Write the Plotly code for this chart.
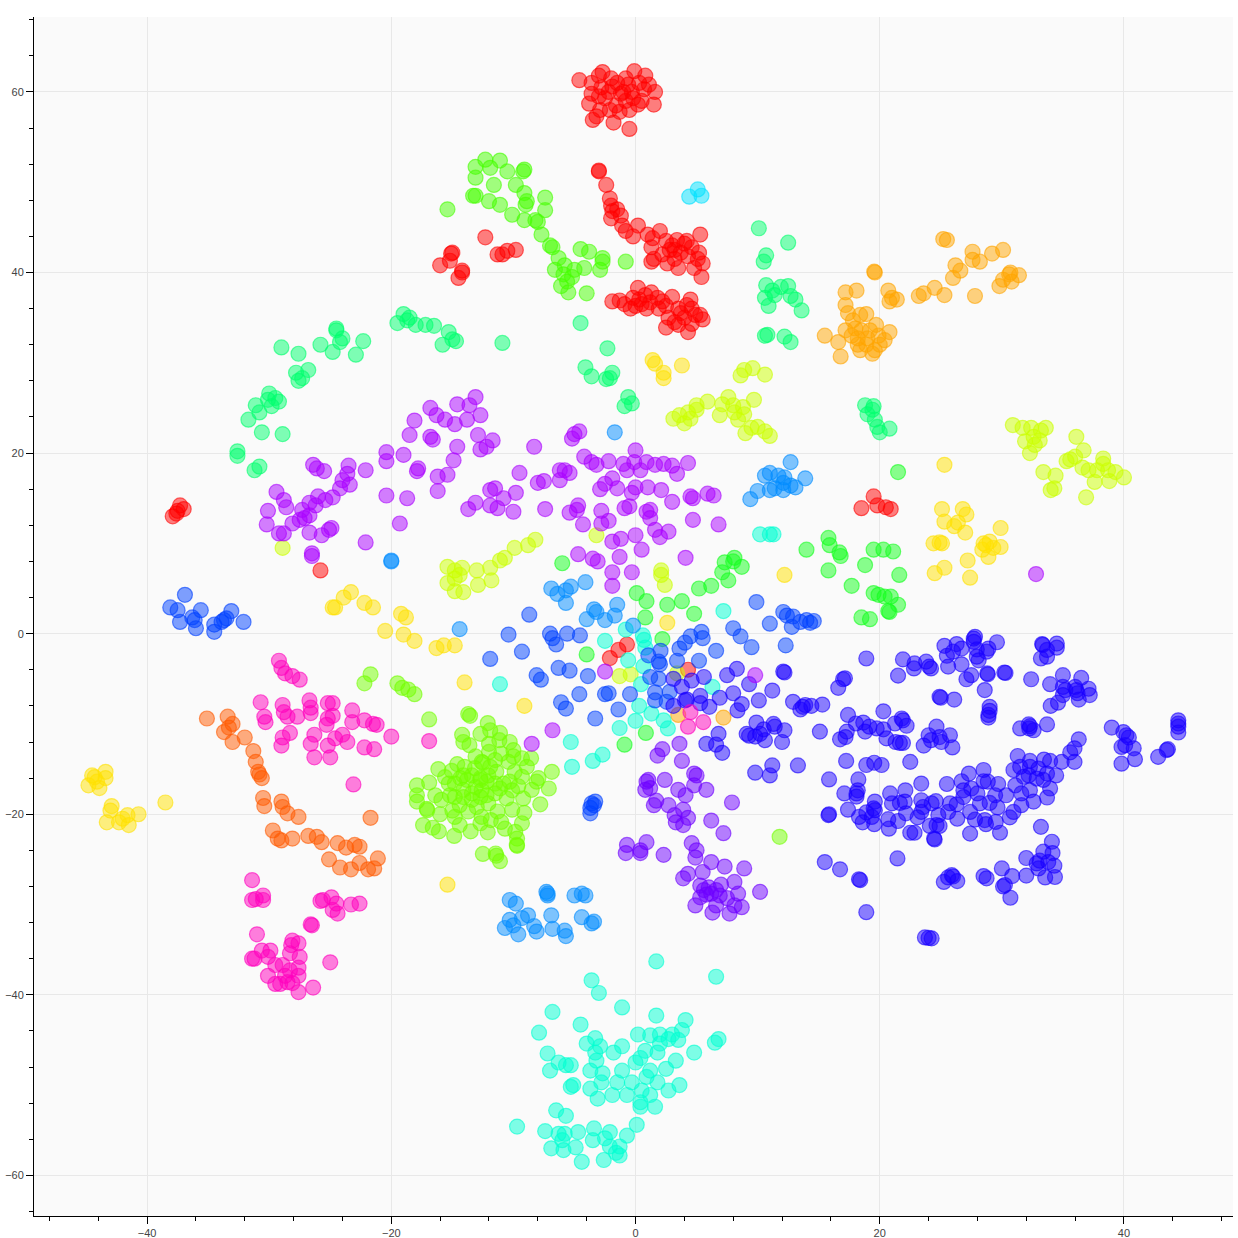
import plotly.graph_objects as go

red = [(-4.6,61.3),(-3.6,61),(-3,61.8),(-2.7,62.2),(-2,61.5),(-1.5,61),(-0.8,61.5),(-0.1,62.3),(0.8,61.8),(1.1,60.8),(1.6,60),(1.5,58.6),(0.5,59),(-0.3,60),(-0.8,59),(-1.2,59.8),(-1.6,58.5),(-2.2,60),(-2.8,60.5),(-3.6,59.8),(-3.8,58.7),(-2.9,58),(-2.1,58),(-1.3,57.8),(-0.5,58),(0.2,58.6),(-0.6,60.8),(-1.9,60.6),(-3.2,57.3),(-3.5,56.9),(-1.8,56.6),(-0.5,55.9),(0.7,60.3),(0.3,61),(-1,60),(-2.5,59.3),(-0.2,59.3),(-3,59.5),
(-3,51.3),(-3,51.2),(-2.4,49.7),(-2.1,48.2),(-2,47.4),(-1.9,46.8),(-2,46),(-1.5,47),(-1.2,46.3),(-1.1,45.2),(-0.8,44.6),(0.2,45.2),(-0.2,44),(1,44.2),(1.4,43.8),(2,44.6),(2.5,43.5),(3,43),(3.2,42.5),(3.7,42.2),(4,43.2),(4.6,42.8),(5.3,44.2),(1.3,42.8),(1.5,41.5),(2.2,42),(2.6,41),(3.2,41.5),(3.5,40.5),(4.3,41.8),(4.8,40.5),(5.1,41.5),(5.5,41),(5.4,39.5),(4.2,43.5),(3.4,43.6),(5.2,42.2),(1.3,41.2),(2.8,42.5),
(-1.9,36.8),(-1.3,36.9),(-0.9,36.5),(-0.4,36),(0,36.3),(0.3,37),(0.2,38.3),(0.8,37.5),(1.3,37.8),(1.2,36.7),(1.8,37.2),(0.9,36),(0.5,36.5),(2.2,36.8),(2.5,36.3),(2.7,35),(2.5,33.9),(3.2,34.5),(3.5,36),(3.7,35.5),(4,35),(4.2,36.4),(4.5,37),(4.6,36),(4.9,35.3),(5.3,35.3),(5.5,34.8),(4.3,33.4),(4.6,34.3),(3.5,34.2),(1.9,36),(-0.2,37.2),(3,37.3),
(-16,40.8),(-15.1,42.1),(-15.2,41.3),(-15,42.2),(-14.2,40),(-14.5,39.4),(-14.2,40.2),(-12.3,43.9),(-11.3,42),(-10.9,42),(-10.5,42.4),(-9.8,42.5),
(-37.9,13),(-37.5,13.6),(-37.3,14.2),(-37,13.8),(-37.6,13.3),(-25.8,7),(18.5,13.9),(19.5,15.2),(19.8,14.2),(20.5,14),(20.9,13.8),(-2.1,-2.7),(-1.4,-1.8),(-0.7,-1.2),(4.3,-4)]

amber = [(18.1,38),(17.2,37.8),(17.2,36.4),(17.4,35.5),(17.8,34.7),(18.4,35.3),(18.9,35.4),(15.5,33),(16.6,32.3),(16.8,30.7),(17.2,33.6),(18,33.8),(18.5,33.6),(19.2,33.6),(19.9,33),(20.8,33.4),(18.2,32),(18.4,31.4),(18.9,32),(19.6,31.4),(20,32),(19.4,31),(18.2,32.7),(19,32.7),(19.7,34.2),(20.4,32.5),(17.7,33),(19.6,40),(19.55,40.1),(20.7,38),(21,37.2),(21.4,37),(20.8,36.8),(23.2,37.4),(23.6,37.7),(24.5,38.3),(25.3,37.5),(25.2,43.7),(25.5,43.6),(26,39.4),(26.2,40.8),(26.6,40.2),(27.6,42.3),(27.6,41.4),(27.8,37.4),(28.2,41.2),(29.2,42.1),(30.1,42.5),(29.8,38.5),(30.1,39.2),(30.6,39.8),(31.4,39.7),(30.8,39),(30.7,40),(7.2,-9.3),(3.5,-9)]

orange = [(-35.1,-9.4),(-33.4,-9.2),(-33.3,-10.4),(-33,-10),(-33.7,-10.9),(-33,-12),(-32,-11.5),(-31.3,-13),(-31.1,-14.2),(-30.9,-15.3),(-30.6,-16),(-30.8,-15.6),(-30.5,-18.2),(-30.4,-19.1),(-29,-18.6),(-28.9,-19.2),(-28.5,-19.9),(-27.6,-20.3),(-29.7,-21.8),(-29.3,-22.7),(-29,-22.9),(-28.1,-22.7),(-26.8,-22.4),(-26.1,-22.5),(-25.7,-23.1),(-24.4,-23.2),(-23.7,-23.7),(-23,-23.4),(-22.6,-23.6),(-25.1,-25),(-24.2,-25.9),(-23.3,-26.1),(-22.6,-25.4),(-21.9,-26.1),(-21.4,-26),(-21.1,-24.9),(-21.7,-20.4)]

yellow = [(-44.8,-16.8),(-44.5,-15.7),(-44.1,-16.4),(-43.9,-17.1),(-43.4,-15.3),(-43.4,-16),(-42.9,-19.1),(-43.3,-20.9),(-43,-19.6),(-42.3,-20.9),(-42,-20.5),(-41.5,-21.2),(-41.6,-20.1),(-40.7,-20),(-38.5,-18.7),(-44.3,-15.9),
(-24.8,2.9),(-24.6,2.9),(-23.9,4),(-23.3,4.6),(-22.2,3.4),(-21.5,2.9),(-20.5,0.3),(-19.2,2.2),(-18.8,1.8),(-19,-0.1),(-18.1,-0.8),(-16.3,-1.6),(-15.7,-1.3),(-14.8,-1.3),(-14,-5.4),(-9.1,-8),(-15.4,-27.8),(2.6,1.2),(12.2,6.5),
(25.3,18.7),(25.1,13.8),(26.8,13.8),(27.1,13.2),(25.3,12.4),(26.1,11.9),(26.4,12.3),(27,11.2),(29.9,11.7),(24.4,10),(24.9,10.1),(25.1,10),(24.5,6.7),(25.3,7.3),(27.2,8.1),(27.4,6.2),(28.4,9.3),(28.7,9.8),(29,10.2),(29.3,9.5),(29.9,9.6),(28.9,8.5),(28.5,10),
(1.4,30.3),(1.6,29.9),(2.3,28.9),(2.3,28.3),(3.8,29.7)]

chartreuse = [(3.1,23.8),(4,23.3),(4.5,23.8),(5,24.8),(5,25.3),(5.9,25.7),(6.9,24.2),(7.1,25.4),(7.6,26.2),(8,25.3),(8.1,24.5),(8.8,25.1),(8.9,24.3),(9.7,25.9),(9,22.2),(9.5,22.8),(10,22.9),(10.6,22.4),(11,21.9),(8.6,28.6),(8.9,29.2),(9.6,29.4),(10.6,28.7),(3.6,24.2),(4.3,24.5),(8.4,23.7),
(30.9,23.1),(31.7,22.8),(32.4,22.8),(33.2,22.5),(33.6,22.8),(31.9,21.3),(32.6,21.8),(32.7,20.9),(32.3,20),(33.4,17.9),(34.4,17.5),(34.3,16.1),(34,15.9),(36.1,21.8),(36.7,20.3),(35.6,19.3),(36,19.6),(36.6,18.4),(37.1,18.1),(37.8,18.1),(38.3,19.4),(38.7,18.1),(38.3,18.8),(38.8,16.9),(37.6,16.8),(36.9,15.1),(40,17.3),(39.3,17.9),(35.3,19.1),(33.1,21.4),
(-15.4,7.4),(-14.8,7),(-14.2,7.3),(-15.4,5.6),(-14.8,6.1),(-14.8,4.7),(-14.1,4.6),(-14.4,6.5),(-13,7),(-12.9,5.4),(-11.9,7.3),(-11.8,5.9),(-11.1,8.1),(-10.7,8.4),(-9.9,9.5),(-8.8,9.8),(-8.2,10.4),(-28.9,9.5),(-3.2,10.9),(2.1,7),(2.1,6.5),(2.4,5.4),(-1.3,-4.7),(-0.4,-4.5),(3.4,-4.4)]

lime = [(-13.7,-8.9),(-13.55,-9.1),(-16.9,-9.5),(-12.1,-9.9),(-14.2,-11.2),(-14.1,-12),(-13.6,-12.35),(-12.7,-11.1),(-11.9,-10.7),(-11.1,-11),(-11.15,-11.8),(-12,-12.2),(-10.3,-12),(-13.1,-13.6),(-12.6,-14.2),(-12,-13.1),(-11,-13.3),(-10,-12.9),(-10,-13.6),(-10.4,-14.2),(-9.3,-13.8),(-8.55,-13.8),(-8.9,-14.75),(-9.9,-15.3),(-9.3,-15.85),(-6.85,-15.3),(-7.95,-16),(-8.1,-16.4),(-7.1,-17.15),(-8.5,-17.3),(-9.2,-18.25),(-7.8,-18.9),(-10.1,-19.5),(-9.1,-19.85),(-9.3,-21),(-11.3,-19.7),(-16.15,-15),(-14.6,-14.45),(-15.05,-15.2),(-14,-14.75),(-15.6,-15.9),(-16.9,-16.5),(-17.9,-16.8),(-17.9,-17.9),(-17.9,-18.6),(-16.4,-17.9),(-15.9,-18.4),(-17.1,-19.4),(-17.05,-19.55),(-16,-20),(-15,-19.6),(-14.8,-20.3),(-13.7,-19.7),(-14.4,-21.2),(-17.4,-21.2),(-16.6,-21.5),(-16.1,-21.9),(-14.85,-22.4),(-13.5,-21.9),(-12.7,-21),(-12.6,-20.3),(-12.1,-22),(-11.85,-20.65),(-11,-20.85),(-10.7,-21.6),(-9.85,-21.95),(-9.7,-22.7),(-9.7,-23.5),(-9.72,-23.4),(-12.5,-24.4),(-11.45,-24.35),(-11.4,-24.6),(-11.1,-25.2),
(-14.35,-16),(-14.8,-16.6),(-13.8,-16.2),(-13.4,-15.7),(-12.7,-16),(-12.05,-15.7),(-11.4,-15.3),(-10.8,-16.6),(-10.3,-16.4),(-9.6,-16.9),(-11.5,-16.6),(-12.2,-16.4),(-13.1,-17),(-12.6,-17.35),(-13.4,-17.7),(-14.1,-17.3),(-15.2,-17.9),(-14.8,-18.1),(-12.7,-18.1),(-13.4,-18.4),(-12.05,-18.8),(-11.5,-17.7),(-10.55,-18.25),(-11.1,-17.15),(-12.5,-14.3),(-11.5,-14),(-11.9,-14.75),(-13.15,-14.9),(-14.1,-15.7),(-15.3,-16.6),(-10.1,-17.35),(-13,-19.2),(-14.4,-19),(-14.1,-18.1),(-12.2,-17.9),(-12.7,-16.2),
(-22.2,-5.5),(-21.7,-4.5),(-19.5,-5.5),(-19.1,-6),(-18.6,-6.2),(-18.1,-6.7),(11.8,-22.5)]

grass = [(-13.1,51.7),(-12.3,52.5),(-13.1,50.5),(-11.1,52.4),(-11.9,51.6),(-10.5,51.2),(-9.1,51.4),(-9.2,51.2),(-11.6,49.7),(-9.8,49.7),(-12,47.9),(-13.3,48.5),(-13.1,48.5),(-11.1,47.5),(-10.1,46.4),(-9.1,48.8),(-8.9,47.9),(-7.4,48.3),(-9,47.5),(-7.4,46.9),(-8.2,45.8),(-9.1,45.8),(-8,45.6),(-7.7,44.2),(-7,43),(-6.8,42.8),(-6.3,41.6),(-6.6,40.3),(-5.8,40.8),(-5.9,39.8),(-5.2,39.5),(-5.6,39),(-5,40.3),(-6.1,38.5),(-5.5,37.8),(-4,37.7),(-4.5,42.6),(-3.8,42.3),(-4.2,40.5),(-2.7,41.6),(-2.7,41.2),(-2.9,40.3),(-0.8,41.2),(-15.4,47)]

green = [(21.5,17.9),(14,9.3),(15.8,10.6),(15.9,9.8),(16.7,9),(16.8,8.6),(15.8,7),(17.7,5.3),(18.8,7.6),(19.5,9.3),(20.3,9.3),(21.1,9.1),(21.6,6.5),(19.5,4.5),(19.9,4.3),(20.4,4.1),(20.9,4.1),(21.5,3.2),(18.5,1.8),(19.2,1.6),(20.7,2.5),(20.8,2.4),
(7.3,7.9),(8,8),(7.1,6.8),(8.1,8.4),(8.7,7.4),(7.6,5.9),(6.2,5.3),(5.2,5),(3.8,3.6),(4.8,2.2),(2.6,3.2),(0.9,3.6),(0.1,4.5),(0.8,1.8),(2.2,-0.6),(-4,-2.3),(-6,7.8),(-0.9,-12.3),(0.85,-11)]

spring = [(-4.5,34.4),(-2.3,31.6),(-4.1,29.5),(-1.9,28.9),(-2.1,28.3),(-3.6,28.5),(-2.4,28.2),(-0.6,26.2),(-0.9,25.2),(-0.3,25.5),(-10.9,32.2),
(-29,31.7),(-27.6,31),(-25.8,32),(-24.5,33.8),(-24.5,33.6),(-24,32.7),(-24.8,31.2),(-24.2,32.3),(-22.3,32.4),(-22.9,30.9),(-27.8,28.9),(-26.8,29.2),(-27.3,28.3),(-27.6,28),(-30,26.6),(-29.5,26.1),(-30.1,25.9),(-29.2,25.7),(-31.1,25.3),(-29.8,25.2),(-31.7,23.7),(-30.8,24.5),(-30.6,22.3),(-28.9,22.1),(-32.6,20.2),(-32.6,19.7),(-31.2,18.1),(-30.8,18.5),
(-19.5,34.4),(-19,35.4),(-18.7,34.7),(-18.5,35),(-18,34.2),(-17.2,34.2),(-16.5,34.1),(-15.8,32),(-15.3,33.4),(-15,32.6),(-14.7,32.4),
(10.1,44.9),(10.7,41.9),(10.5,41.2),(12.5,43.3),(10.7,38.6),(11.2,38),(10.6,37.2),(10.9,36.3),(11.9,38.4),(12.5,38.5),(12.7,37.4),(13.1,37),(13.6,35.8),(10.8,33.1),(10.6,33),(12.2,32.9),(12.7,32.3),(11.4,37.5),
(18.8,25.3),(19.4,24.8),(19,24.3),(19.6,23.7),(19.8,22.9),(20,22.3),(20.8,22.7),(19.5,25.2)]

turquoise = [(1.7,-36.3),(6.6,-38),(-3.6,-38.4),(-3,-39.8),(-1.1,-41.4),(-6.8,-41.9),(-7.9,-44.2),(-4.5,-43.3),(1.7,-42.3),(4.1,-42.8),(0.2,-44.4),(1.2,-44.5),(2,-44.4),(3,-44.4),(3.8,-43.9),(6.5,-45.3),(6.8,-44.9),(-3.3,-44.8),(-4,-45.4),(-2.9,-45.7),(-1.1,-45.7),(-1.8,-46.4),(-3.3,-46.4),(-7.2,-46.5),(-6.3,-47.5),(-7,-48.4),(-5.7,-47.8),(-5.3,-47.8),(-3.2,-47.3),(0.4,-47),(2,-45.4),(2.7,-44.9),(3.5,-45),(4.8,-46.4),(1.8,-46.4),(0.8,-46.2),(0,-47.5),(3.3,-47.3),(1.2,-48.4),(2.5,-48.2),(-3.7,-48.4),(-2.7,-48.7),(-1.1,-48.4),(-5.1,-50),(-5.3,-50.2),(-2.8,-49.7),(-1.5,-49.7),(-0.3,-49.7),(0.9,-49.1),(1.8,-49.7),(3.6,-50),(2.7,-50.6),(-3.1,-51.5),(-1.9,-51.1),(-0.7,-51.1),(0.4,-51.9),(1.2,-51.1),(0.5,-50.6),(1.6,-52.4),(0.4,-52.4),(-3.7,-50.4),(-6.5,-52.8),(-5.7,-53.4),(-9.7,-54.6),(-7.4,-55.1),(-6.3,-55.4),(-5.8,-55.4),(-4.7,-55.2),(-3.4,-54.8),(-2.1,-55.2),(0.1,-54.4),(-0.7,-55.6),(-6.9,-57),(-5.9,-57.2),(-6,-56.1),(-4.9,-56.9),(-4.4,-58.5),(-3.5,-56.1),(-2.5,-55.9),(-2.1,-56.8),(-1.3,-56.8),(-2.6,-58.3),(-1.6,-57.5),(-1.3,-57.8),
(-2.5,-0.8),(-0.8,0.45),(0.6,-0.2),(0.7,-0.7),(0.8,-1.55),(-0.6,-2.95),(0.65,-3.6),(0.45,-5.6),(-11.1,-5.6),(0.3,-8),(1.3,-8.85),(0,-9.65),(2.3,-9.6),(2.65,-10.5),(-1.3,-10.45),(-5.3,-12),(-2.7,-13.4),(-3.5,-14.1),(-5.2,-14.75),(6.3,-5.9),(7.2,2.5),(10.2,11),(11,11),(11.3,11)]

cyan = [(4.4,48.4),(5.1,49.2),(5.4,48.5)]

sky = [(9.4,14.9),(10,15.8),(10.6,17.5),(11,17.8),(11.7,17.5),(12.1,16.7),(11.4,16.1),(12.1,15.9),(12.7,19),(12.7,16.4),(13.1,16.2),(13.9,17.2),(11,15.9),(12.2,17.3),(-1.7,22.3),
(-6.9,5),(-6.4,4.4),(-5.7,4.8),(-5.3,5.2),(-5.7,3.4),(-4.1,5.7),(-3.4,2.7),(-3.2,2.4),(-4,1.6),(-1.7,2),(-2.5,1.5),(-1.5,3.2),(-0.2,0.9),(-14.4,0.5),(-20,8.1),(-20,8),
(-10.3,-29.5),(-9.8,-29.9),(-10.3,-31.7),(-10.7,-32.6),(-10,-32.3),(-9.6,-33.3),(-9.3,-31.5),(-8.8,-31.2),(-8.3,-32.4),(-8.1,-33),(-7.3,-28.6),(-7.2,-29),(-7.2,-28.8),(-6.9,-31.2),(-6.8,-32.7),(-5.8,-32.9),(-5.7,-33.5),(-5,-29),(-4.4,-28.8),(-4.1,-29),(-4.4,-31.4),(-3.6,-32.1),(-3.4,-31.9)]

blue = [(-38.1,2.9),(-37.5,2.6),(-36.9,4.3),(-37.3,1.3),(-36.3,1.8),(-36.1,1.5),(-35.6,2.6),(-36,0.6),(-34.5,0.2),(-33.9,1.3),(-33.7,1.5),(-33.1,2.5),(-33.5,1.7),(-32.1,1.3),(-34.5,1),
(-8.7,2.1),(-10.4,-0.1),(-9.3,-2),(-11.9,-2.8),(-7,0),(-6.8,-0.5),(-6.5,-1.2),(-5.6,0),(-4.55,-0.2),(-6.3,-3.8),(-5.4,-4.1),(-8.1,-4.6),(-7.75,-5.1),(-3.9,-4.7),(-4.6,-6.7),(-2.5,-6.7),(-2.2,-6.6),(-0.45,-6.7),(-6.1,-7.6),(-5.7,-8.3),(-1.4,-8.4),(-3.3,-9.4),
(9.9,3.5),(8,0.6),(8.6,-0.3),(9.5,-1.5),(6.6,-1.9),(12.3,-1.3),(11,1.1),(12.1,2.4),(12.8,0.75),(12.4,2),(12.9,1.9),(13.5,1.3),(14,1.5),(14.3,1.2),(14.6,1.4),
(5.4,0.2),(5.5,-0.5),(4.5,-0.3),(4.05,-1),(3.6,-1.65),(3.4,-3),(5.2,-3),(2.05,-1.9),(1.05,-2.4),(1.9,-3.1),(2,-3.4),(1.9,-5),(1.2,-4.8),(1.6,-6.5),(1.6,-7.4),(2.8,-6.45),(2.55,-7.55),
(-3.6,-18.8),(-3.7,-19.3),(-3.3,-18.6),(-3.7,-19.9),(-3.4,-19)]

indigo = [(3.1,-5),(3.8,-5.9),(4.6,-5.2),(5.6,-4.8),(7.5,-4.6),(8.3,-3.9),(9.3,-5.6),(11.2,-6.3),(12.1,-4.2),(12.2,-4.3),(8,-6.6),(6.9,-7.1),(5.3,-6.9),(4.05,-7.4),(3.1,-8),(4.2,-7.3),(5.3,-7.7),(6.05,-8.1),(8.7,-7.8),(8.35,-8.5),(10.1,-7.4),(12.9,-7.55),(6.8,-11.1),(5.8,-12.2),(6.6,-12.3),(7.1,-13.2),(9.1,-11.1),(9.8,-11.4),(10.2,-11.1),(10.6,-11.8),(11.3,-10),(12,-12),(11.4,-10.3),(9.9,-9.85),(12.2,-10.7),(11.2,-14.6),(9.8,-15.4),(11,-15.7),(13.3,-14.6),(9.3,-11.3),(10.5,-10.6),
(18.9,-2.75),(21.9,-2.85),(21.5,-4.65),(22.85,-3.3),(22.8,-3.85),(23.8,-3.1),(24.05,-3.65),(24.2,-3.85),(25.3,-1.35),(26.3,-1.15),(26.7,-1.65),(25.5,-2.45),(26,-2),(25.6,-3.65),(26.7,-3.4),(27.1,-5.05),(27.5,-4.6),(27.7,-0.55),(27.8,-0.35),(27.7,-0.9),(27.95,-1.75),(28.9,-1.65),(29.6,-0.95),(28.75,-2),(27.95,-2.55),(28.1,-2.95),(28.8,-4.4),(28.85,-4.5),(30.2,-4.3),(30.3,-4.35),(28.6,-6.25),(24.9,-7),(25,-7.1),(26.1,-7.3),(29,-8.1),(29,-8.55),(28.9,-9),(28.9,-9.3),
(33.3,-1.15),(33.35,-1.25),(34.5,-1.1),(34.5,-1.55),(33.7,-1.8),(33.2,-2.75),(33.7,-2.55),(32.4,-5.05),(33.95,-5.6),(35,-4.6),(36.5,-4.9),(35,-5.9),(35.2,-6.25),(35,-6.8),(36,-5.9),(36.1,-6.25),(36.3,-7.3),(37.1,-6.1),(37.2,-6.8),(34.6,-7.65),(34,-8),(36.2,-6.6),
(39,-10.4),(39.95,-10.9),(40.2,-11.25),(40.4,-11.5),(39.8,-12.55),(40.1,-12.35),(40.8,-12.7),(40.9,-13.9),(39.8,-14.4),(42.8,-13.65),(43.5,-12.9),(43.6,-12.8),(44.45,-9.6),(44.45,-9.95),(44.45,-10.3),(44.45,-10.95),
(31.5,-10.5),(32.2,-10.05),(32.3,-10.25),(32.6,-10.7),(33.7,-10.05),(32.25,-10.5),
(36.3,-11.7),(35.95,-12.7),(35.6,-13.15),(35.95,-14.2),(34.9,-14.2),(33.95,-14.1),(33.45,-13.95),(32.3,-14.1),(31.3,-13.55),(30.95,-15.1),(31.5,-14.75),(32.3,-14.75),(33,-14.95),(33.7,-15.5),(34.45,-15.7),(31.8,-15.85),(32.2,-15.7),(32.85,-16.05),(33.4,-16.2),(31.1,-16.8),(32.3,-17.35),(31.6,-17.7),(33.95,-17.15),(33.7,-18.15),(32.6,-18.6),(31.6,-19),(30.95,-19.75),(30.65,-20.35),
(28.5,-15.1),(27.3,-15.5),(26.7,-16.35),(28.85,-16.4),(28.5,-16.35),(29.7,-16.65),(27.5,-17.15),(26.85,-17.35),(25.5,-16.65),(23.4,-16.6),(22.1,-17.35),(20.85,-17.7),(21,-18.8),(21.65,-18.75),(22.05,-18.6),(23.4,-18.45),(24.6,-18.55),(28,-17.7),(30.35,-17.9),(29.45,-17.9),(25.75,-18.8),(26.3,-18.9),(26.85,-18.1),(28.2,-18.8),(29,-18.75),(29.65,-19.25),(25.6,-19.75),(26.35,-20.5),(27.4,-19.75),(27.8,-20.6),(28.6,-20.65),(28.7,-21.1),(29.5,-20.85),(29.85,-22.05),(27.4,-22.15),
(23.55,-19.2),(23.4,-19.75),(24.25,-18.8),(24.8,-20.1),(23.1,-20.35),(24.1,-21.3),(24.65,-21.2),(24.9,-21.3),(22.5,-22.05),(22.85,-22.05),(24.5,-22.8),(24.45,-22.7),
(22.15,-19.9),(21.5,-20.75),(20.7,-20.55),(20.75,-21.6),(19.6,-19.55),(19.5,-19.35),(19.6,-18.6),(18.9,-19.8),(18.3,-20.3),(18.6,-20.9),(19.55,-21.1),(19.35,-20.3),(17.4,-19.5),(15.85,-20),(15.8,-20.1),(17.1,-17.7),(18.1,-17.7),(18.1,-18.05),(18.25,-16.15),(18.2,-17.35),(15.85,-16.15),
(17.25,-14.1),(18.9,-14.55),(19.55,-14.3),(20.15,-14.55),(22.5,-14.2),(15.1,-10.85),(15.3,-7.85),(14.4,-8),(13.9,-7.9),(13.5,-8.4),(13.7,-8.1),(16.6,-6),(17,-5.05),(17.15,-4.95),(17.4,-9),(16.75,-11.7),(17.2,-11.45),(17.3,-10.85),(18.05,-9.95),(18.8,-10.85),(18.65,-9.85),(19.15,-10.3),(19.75,-10.5),(20.3,-8.6),(20.3,-10.6),(20.55,-11.6),(21.25,-9.95),(21.3,-12),(21.8,-9.4),(21.9,-9.6),(22.2,-10.2),(21.65,-12.1),(21.9,-12.1),
(24.65,-10.3),(24,-11.25),(24.2,-11.8),(23.6,-12.4),(24.9,-11.45),(25.05,-12),(25.75,-11.25),(25.95,-12.6),
(33.2,-21.4),(34.1,-23.05),(33.4,-24.15),(34.15,-24.3),(32,-24.85),(32.85,-25.45),(33.1,-25.15),(33.8,-25.3),(34.3,-25.7),(32,-26.8),(33.55,-27),(34.35,-26.95),(33,-26),(30,-26),(30.85,-26.85),(30.25,-27.85),(30.1,-28),(30.7,-29.25),(28.5,-26.85),(28.75,-27.1),(25.9,-26.75),(25.25,-27.5),(25.6,-27),(26.35,-27.4),(26,-26.9),
(15.5,-25.3),(16.75,-26.1),(18.3,-27.2),(18.4,-27.3),(18.9,-30.85),(21.45,-24.9),(23.7,-33.65),(24,-33.7),(24.25,-33.75)]

violet = [(1.8,-13.5),(2.2,-12.8),(3.6,-12.2),(3.8,-14.1),(4.8,-15.5),(1.05,-16.2),(2.4,-16.2),(0.9,-16.4),(1.2,-17.1),(0.8,-17.3),(1.7,-18.5),(1.5,-19),(3.5,-17.3),(4.1,-17.9),(4.8,-16.8),(5,-15.7),(5.8,-17.3),(2.7,-19),(3.2,-20.1),(3.9,-19.5),(4.3,-20.4),(3.3,-20.9),(3.9,-21.2),(6.2,-20.7),(7.9,-18.7),(7.2,-22.1),(2.3,-24.5),(0.4,-24),(0.9,-23.1),(-0.7,-23.4),(-0.8,-24.3),(0.4,-24.3),(4.6,-23.2),(5,-24),(4.9,-24.8),(6.2,-25.3),(7.3,-25.8),(8.9,-26),(5.5,-26.4),(3.9,-27.1),(4.3,-26.6),(5.6,-28.4),(6,-28.1),(6.6,-28.4),(7,-27.8),(5.3,-29.2),(6.2,-28.8),(6.9,-29),(8.1,-27.5),(8.4,-28.8),(4.9,-30.1),(6.3,-30.9),(7.7,-31),(8.7,-30.3),(10.2,-28.6),(6.6,-30.1),(5.3,-27.9),(5.8,-28.9),(7.5,-29.3),(8.1,-30.1)]

purple = [(-13.1,26.2),(-13.6,25.3),(-14.6,25.4),(-16.8,25),(-16.3,24.2),(-15.6,23.7),(-18.1,23.6),(-18.5,22),(-16.8,21.8),(-16.6,21.5),(-14.8,23.2),(-13.8,23.7),(-12.7,24.2),(-12.9,22),(-11.7,21.4),(-12.7,20.4),(-12.2,20.7),(-14.6,20.7),(-14.9,19.2),(-20.4,20.1),(-20.4,19.1),(-19,19.8),(-17.8,18.3),(-17.9,18),(-16.2,17.4),(-15.4,17.6),(-16.2,15.8),(-20.4,15.3),(-18.7,15),(-19.3,12.2),(-22.1,10.1),
(-26.4,18.7),(-26.1,18.3),(-25.5,18),(-23.5,18.6),(-23.6,17.7),(-22.1,18.1),(-24,17),(-23.4,16.5),(-24.2,16.1),(-24.8,15.1),(-26,15.2),(-26.7,14.5),(-27.3,13.7),(-26.7,13.1),(-29.4,15.7),(-28.8,14.8),(-28.6,14),(-30.1,13.6),(-30.2,12.1),(-29.2,11.1),(-28.8,11.1),(-28.1,12.2),(-27.5,12.6),(-27.1,12.8),(-26.7,11.2),(-25.7,10.9),(-24.9,11.7),(-25.1,11.5),(-26.5,8.6),(-26.5,8.9),(-26.2,14.2),(-25.4,14.8),
(-8.3,20.7),(-9.5,17.8),(-13.7,13.8),(-13.1,14.5),(-11.9,15.9),(-11.5,16.1),(-11.9,14.2),(-11.3,13.9),(-10.8,15),(-9.8,15.6),(-10,13.5),(-8,16.7),(-7.5,16.9),(-7.4,13.8),(-6.2,18.1),(-5.8,18.1),(-5.4,17.8),(-6.2,17),(-5.2,21.6),(-5,22.1),(-4.6,22.4),(-4.2,19.6),(-3.6,19),(-3.2,18.7),(-2.2,19.1),(-1,18.8),(0,20.3),(-0.1,19),(0.4,18.1),(0.9,19),(1.6,18.7),(2.3,18.8),(3,18.6),(3.4,17.7),(4.3,18.9),(4.5,15.2),(4.7,15),(5.9,15.5),(6.4,15.3),(4.7,12.6),(6.8,12.1),(3,14.6),(2.7,11.3),(0.9,13.5),(1.2,13.7),(1.2,12.8),(1.6,11.5),(2,10.7),(0,10.9),(0.5,9.3),(-0.9,13.9),(-0.5,14.1),(0,16.2),(-0.3,15.6),(1,16.2),(2.1,15.9),(-1.9,17.2),(-2.5,16.6),(-2.9,16),(-1.5,16.1),(-0.7,18.1),(-4.7,14.2),(-4.8,13.7),(-5.4,13.4),(-4.3,12.1),(-2.8,13.6),(-2.8,12.2),(-2.2,12.5),(-1.9,10.2),(-1.2,10.5),(-4.7,8.8),(-3.5,8.3),(-3.1,8),(-1.3,8.5),(-0.3,6.8),(-1.9,6.8),(-1.9,5.3),(4.1,8.4),(32.8,6.6),(-6.8,-10.7),(-8.5,-12.2),(9.8,-4.6),(-2.5,-4.2)]

magenta = [(-29.2,-3),(-29,-3.8),(-28.7,-4.4),(-28.1,-4.7),(-27.5,-5.1),(-30.7,-7.6),(-30.4,-9.2),(-30.3,-9.8),(-28.9,-7.9),(-28.8,-8.7),(-28.5,-9.2),(-27.7,-9.2),(-26.7,-7.4),(-26.6,-8.2),(-26.6,-8.8),(-25.2,-7.7),(-24.8,-7.7),(-25.2,-9.4),(-24.8,-9.1),(-23.2,-8.5),(-23.2,-9.8),(-22.2,-9.6),(-21.5,-10),(-21.2,-10.1),(-20,-11.4),(-28.3,-11),(-28.9,-11.5),(-29,-12.4),(-26.3,-11.2),(-26.6,-12.2),(-26.3,-13.7),(-25.3,-10.1),(-25.2,-12.4),(-25,-13.7),(-24.6,-11.6),(-24,-11.2),(-23.6,-12),(-22.2,-12.6),(-21.4,-12.8),(-23.1,-16.7),(-16.9,-11.9),
(-31.4,-27.3),(-31.4,-29.5),(-31.1,-29.4),(-30.5,-29),(-30.5,-29.5),(-25.8,-29.6),(-25.6,-29.5),(-24.9,-29.2),(-24.5,-29.9),(-24.8,-30.6),(-24.4,-31),(-23.3,-30),(-22.6,-29.9),(-26.6,-32.2),(-26.5,-32.3),(-31,-33.3),(-31.4,-36),(-31.2,-36),(-30.6,-35.1),(-29.9,-35.1),(-30.1,-35.8),(-30.1,-37.9),(-29.5,-38.8),(-29.1,-38.8),(-28.7,-37.9),(-29.5,-36.7),(-28.9,-36.7),(-28.2,-34.5),(-28.1,-34),(-27.6,-34.3),(-28.3,-35.4),(-27.5,-35.8),(-27.6,-37),(-28.3,-37.3),(-27.6,-37.9),(-28.1,-38.7),(-27.6,-39.7),(-28.5,-38.6),(-26.4,-39.2),(-25,-36.4),
(4.3,-10.3),(5.55,-9.8),(4.5,-8.7)]

series = [
    (red, "255,0,0"), (amber, "255,165,0"), (orange, "255,90,0"), (yellow, "255,225,0"),
    (chartreuse, "204,255,0"), (lime, "115,255,0"), (grass, "70,255,0"), (green, "20,255,30"),
    (spring, "0,255,110"), (turquoise, "0,255,210"), (cyan, "0,225,255"), (sky, "0,140,255"),
    (blue, "0,65,255"), (indigo, "25,0,255"), (violet, "110,0,255"), (purple, "170,0,255"),
    (magenta, "255,0,190"),
]

fig = go.Figure()
for pts, rgb in series:
    fig.add_trace(go.Scatter(
        x=[p[0] for p in pts], y=[p[1] for p in pts], mode="markers", showlegend=False,
        marker=dict(size=15, color=f"rgba({rgb},0.5)", line=dict(color=f"rgba({rgb},0.6)", width=1.2)),
    ))

axis = dict(
    showline=True, linecolor="black", linewidth=1, mirror=False, zeroline=False, automargin=False,
    showgrid=True, gridcolor="#e8e8e8", gridwidth=1, dtick=20, tick0=0,
    ticks="outside", ticklen=7, tickcolor="black", tickwidth=1,
    tickfont=dict(family="Liberation Sans, Arial, sans-serif", size=11, color="#444444"),
    minor=dict(dtick=4, tick0=0, ticks="outside", ticklen=4, tickcolor="black", tickwidth=1, showgrid=False),
)
fig.update_layout(
    width=1238, height=1238, paper_bgcolor="white", plot_bgcolor="#fafafa",
    margin=dict(l=34, r=5, t=17, b=22), showlegend=False,
    xaxis=dict(axis, range=[-49.26, 48.93]),
    yaxis=dict(axis, range=[-64.5, 68.3]),
)
fig.write_html("out.html", config={"displayModeBar": False},
               post_script="document.body.style.margin='0';document.documentElement.style.overflow='hidden';")
